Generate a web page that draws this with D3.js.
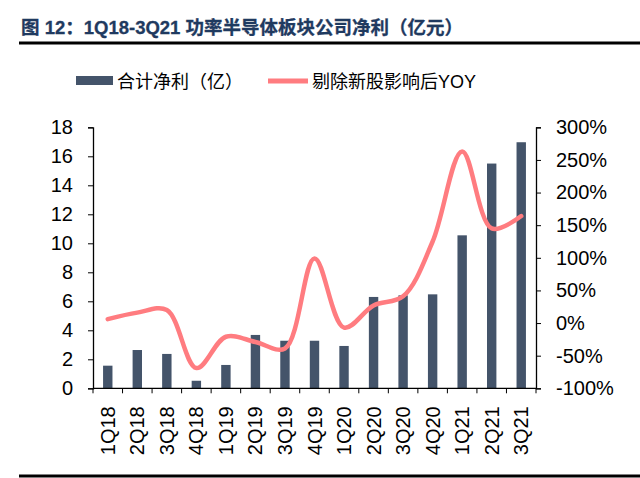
<!DOCTYPE html>
<html>
<head>
<meta charset="utf-8">
<script src="https://cdn.jsdelivr.net/npm/d3@7"></script>
<style>
  body { margin: 0; background: #fff; }
  svg { display: block; font-family: "Liberation Sans", Arial, "Noto Sans CJK SC", sans-serif; }
</style>
</head>
<body>
<div id="chart"></div>
<script>
// quarters and values
var quarters = ["1Q18", "2Q18", "3Q18", "4Q18", "1Q19", "2Q19", "3Q19", "4Q19",
                "1Q20", "2Q20", "3Q20", "4Q20", "1Q21", "2Q21", "3Q21"];
var netProfit = [1.56, 2.64, 2.37, 0.52, 1.61, 3.68, 3.28, 3.28,
                 2.92, 6.3, 6.41, 6.48, 10.55, 15.5, 16.97];
var yoy = [0.06, 0.16, 0.20, -0.69, -0.21, -0.29, -0.39, 0.99,
           -0.07, 0.27, 0.41, 1.25, 2.63, 1.45, 1.64];
var leftTicks = [0, 2, 4, 6, 8, 10, 12, 14, 16, 18];
var rightTicks = [-1, -0.5, 0, 0.5, 1, 1.5, 2, 2.5, 3];

var titleText = "图 12：1Q18-3Q21 功率半导体板块公司净利（亿元）";
var barName = "合计净利（亿）";
var lineName = "剔除新股影响后YOY";

function init() {
    var w = 640, h = 478;
    var left = 93, right = 536, top = 127.3, bottom = 388.3;

    var svg = d3.select("#chart").append("svg")
        .attr("width", w)
        .attr("height", h);

    // title and rules
    svg.append("text")
        .attr("x", 21)
        .attr("y", 34)
        .attr("fill", "#1F3A60")
        .attr("stroke", "#1F3A60")
        .attr("stroke-width", 0.3)
        .style("font-size", "18.5px")
        .style("font-weight", "bold")
        .style("font-family", "'Liberation Sans', 'Noto Sans CJK SC', sans-serif")
        .text(titleText);
    svg.append("line")
        .attr("x1", 19).attr("x2", 640)
        .attr("y1", 43).attr("y2", 43)
        .attr("stroke", "#000").attr("stroke-width", 3);
    svg.append("line")
        .attr("x1", 19).attr("x2", 640)
        .attr("y1", 476).attr("y2", 476)
        .attr("stroke", "#000").attr("stroke-width", 3);

    // legend
    var leg = svg.append("g").style("font-size", "18px").attr("fill", "#000");
    leg.append("rect").attr("x", 76).attr("y", 76).attr("width", 37).attr("height", 9).attr("fill", "#44546A");
    leg.append("text").attr("x", 117).attr("y", 88).text(barName);
    leg.append("line").attr("x1", 268).attr("x2", 308).attr("y1", 81).attr("y2", 81)
        .attr("stroke", "#FF7C80").attr("stroke-width", 5);
    leg.append("text").attr("x", 312).attr("y", 88).text(lineName);

    // scales
    var band = d3.scaleBand().domain(quarters).range([left, right]);
    var yL = d3.scaleLinear().domain([0, 18]).range([bottom, top]);
    var yR = d3.scaleLinear().domain([-1, 3]).range([bottom, top]);

    // bars
    svg.selectAll("rect.bar")
        .data(netProfit)
        .enter()
        .append("rect")
        .attr("class", "bar")
        .attr("x", function(d, i) { return band(quarters[i]) + band.bandwidth() / 2 - 4.7; })
        .attr("width", 9.4)
        .attr("y", function(d) { return yL(d); })
        .attr("height", function(d) { return yL(0) - yL(d); })
        .attr("fill", "#44546A");

    // smoothed yoy line
    var line = d3.line()
        .x(function(d, i) { return band(quarters[i]) + band.bandwidth() / 2; })
        .y(function(d) { return yR(d); })
        .curve(d3.curveCatmullRom.alpha(0.5));
    svg.append("path")
        .datum(yoy)
        .attr("d", line)
        .attr("fill", "none")
        .attr("stroke", "#FF7C80")
        .attr("stroke-width", 4.5)
        .attr("stroke-linecap", "round");

    // axes
    var axL = svg.append("g")
        .attr("transform", "translate(" + left + ",0)")
        .call(d3.axisLeft(yL).tickValues(leftTicks).tickSize(5).tickPadding(15));
    var axR = svg.append("g")
        .attr("transform", "translate(" + right + ",0)")
        .call(d3.axisRight(yR).tickValues(rightTicks).tickSize(5).tickPadding(15)
              .tickFormat(function(d) { return Math.round(d * 100) + "%"; }));
    var axB = svg.append("g")
        .attr("transform", "translate(0," + bottom + ")")
        .call(d3.axisBottom(band).tickSize(0).tickPadding(0));
    // category boundary ticks
    svg.selectAll("line.xtick")
        .data(d3.range(quarters.length + 1))
        .enter()
        .append("line")
        .attr("class", "xtick")
        .attr("x1", function(i) { return left + i * band.step(); })
        .attr("x2", function(i) { return left + i * band.step(); })
        .attr("y1", bottom).attr("y2", bottom + 5)
        .attr("stroke", "#000");

    [axL, axR, axB].forEach(function(ax) {
        ax.select(".domain").attr("stroke", "#000").attr("stroke-width", 1.3);
        ax.selectAll(".tick line").attr("stroke", "#000");
        ax.selectAll("text").style("font-size", "20px").attr("fill", "#000")
          .style("font-family", "'Liberation Sans', Arial, sans-serif");
    });
    axB.select(".domain").attr("d", "M" + left + ",0H" + right);
    axB.selectAll(".tick text")
        .attr("transform", "translate(7,18) rotate(-90)")
        .attr("text-anchor", "end")
        .attr("x", 0).attr("y", 0)
        .attr("dy", "0");
}

window.onload = init;
</script>
</body>
</html>
